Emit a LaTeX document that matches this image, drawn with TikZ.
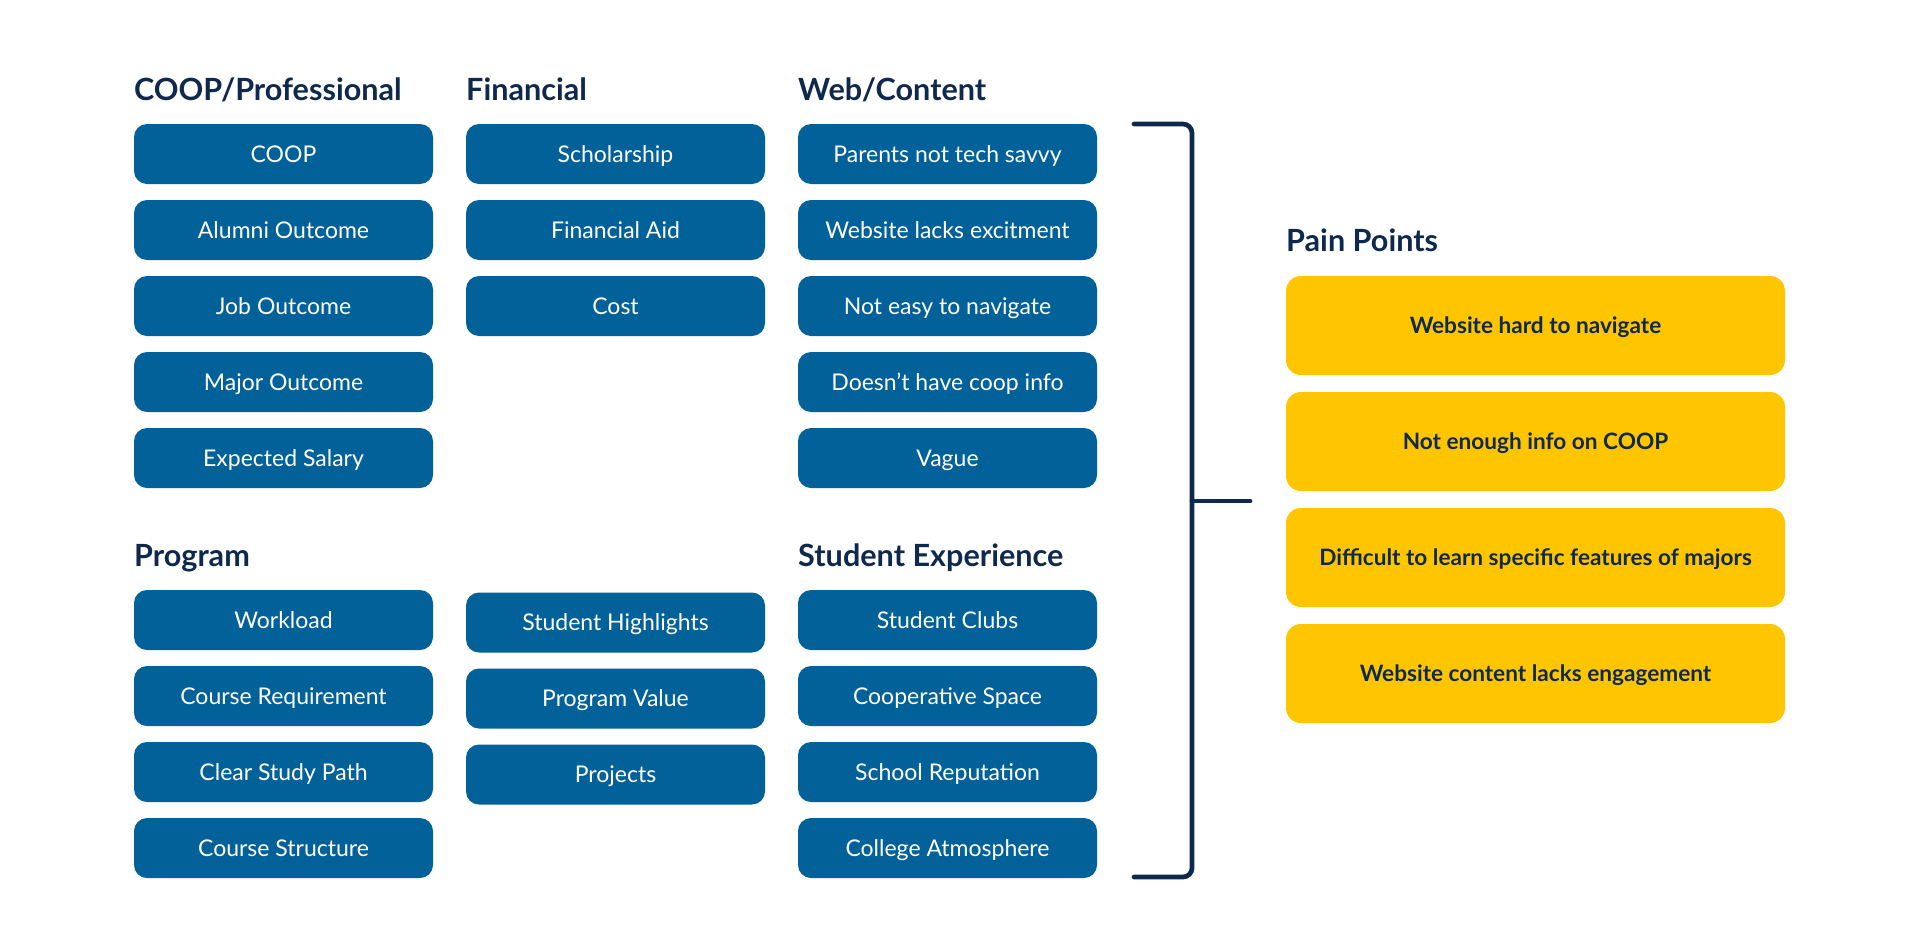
\documentclass[tikz,border=0pt]{standalone}
\usepackage{fontspec}
\setmainfont{Lato}
\definecolor{boxblue}{RGB}{2,97,153}
\definecolor{navy}{RGB}{14,41,77}
\definecolor{painyellow}{RGB}{255,198,0}
\begin{document}
\begin{tikzpicture}[x=1pt,y=-1pt,
  item/.style={fill=boxblue, rounded corners=13pt, minimum width=299pt, minimum height=60pt, inner sep=0pt, text=white, font=\fontsize{23}{26}\selectfont, text height=16.5pt, text depth=0pt},
  head/.style={anchor=base west, inner sep=0pt, text=navy, font=\fontsize{30.6}{34}\selectfont\bfseries},
  pain/.style={fill=painyellow, rounded corners=15pt, minimum width=499pt, minimum height=99pt, inner sep=0pt, text=navy, font=\fontsize{22.6}{26}\selectfont\bfseries, text height=16.3pt, text depth=0pt},
  bracket/.style={draw=navy, line width=4.7pt, line cap=round}
]
\useasboundingbox (0,0) rectangle (1920,948);

% headings
\node[head] (hcoop) at (134,100) {COOP/Professional};
\node[head] (hfin) at (466,100) {Financial};
\node[head] (hweb) at (798,100) {Web/Content};
\node[head] (hprog) at (134,566) {Program};
\node[head] (hstud) at (798,566) {Student Experience};
\node[head] (hpain) at (1286,251) {Pain Points};

% COOP/Professional
\node[item] (c1) at (283.5,154) {COOP};
\node[item] (c2) at (283.5,230) {Alumni Outcome};
\node[item] (c3) at (283.5,306) {Job Outcome};
\node[item] (c4) at (283.5,382) {Major Outcome};
\node[item] (c5) at (283.5,458) {Expected Salary};

% Financial
\node[item] (f1) at (615.5,154) {Scholarship};
\node[item] (f2) at (615.5,230) {Financial Aid};
\node[item] (f3) at (615.5,306) {Cost};

% Web/Content
\node[item] (w1) at (947.5,154) {Parents not tech savvy};
\node[item] (w2) at (947.5,230) {Website lacks excitment};
\node[item] (w3) at (947.5,306) {Not easy to navigate};
\node[item] (w4) at (947.5,382) {Doesn’t have coop info};
\node[item] (w5) at (947.5,458) {Vague};

% Program
\node[item] (p1) at (283.5,620) {Workload};
\node[item] (p2) at (283.5,696) {Course Requirement};
\node[item] (p3) at (283.5,772) {Clear Study Path};
\node[item] (p4) at (283.5,848) {Course Structure};

% middle
\node[item] (m1) at (615.5,622.5) {Student Highlights};
\node[item] (m2) at (615.5,698.5) {Program Value};
\node[item] (m3) at (615.5,774.5) {Projects};

% Student Experience
\node[item] (s1) at (947.5,620) {Student Clubs};
\node[item] (s2) at (947.5,696) {Cooperative Space};
\node[item] (s3) at (947.5,772) {School Reputation};
\node[item] (s4) at (947.5,848) {College Atmosphere};

% bracket
\coordinate (btl) at (1134,124);
\coordinate (btr) at (1192,124);
\coordinate (bbr) at (1192,877);
\coordinate (bbl) at (1134,877);
\coordinate (bmid) at (1192,501);
\coordinate (bstub) at (1250,501);
\draw[bracket, rounded corners=9pt] (btl) -- (btr) -- (bbr) -- (bbl);
\draw[bracket] (bmid) -- (bstub);

% pain points
\node[pain] (pp1) at (1535.5,325.5) {Website hard to navigate};
\node[pain] (pp2) at (1535.5,441.5) {Not enough info on COOP};
\node[pain] (pp3) at (1535.5,557.5) {Difficult to learn specific features of majors};
\node[pain] (pp4) at (1535.5,673.5) {Website content lacks engagement};
\end{tikzpicture}
\end{document}
